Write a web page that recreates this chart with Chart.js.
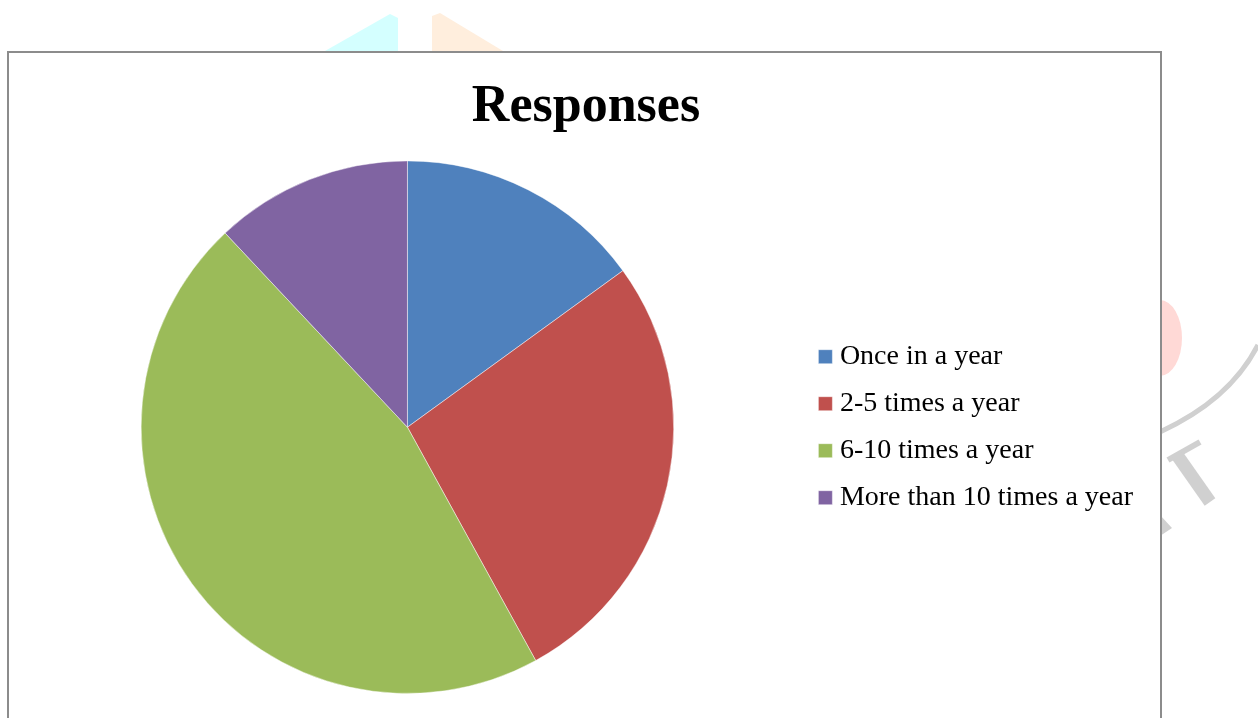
<!DOCTYPE html>
<html>
<head>
<meta charset="utf-8">
<script src="https://cdn.jsdelivr.net/npm/chart.js@4"></script>
<style>
  html, body { margin: 0; padding: 0; background: #fff; overflow: hidden; }
  body { width: 1258px; height: 718px; position: relative; }
  #bg { position: absolute; left: 0; top: 0; }
  #frame {
    position: absolute; left: 7px; top: 51px;
    width: 1151px; height: 680px;
    border: 2px solid #8c8c8c; background: #fff;
  }
</style>
</head>
<body>
<!-- faint watermark bits peeking out around the frame -->
<svg id="bg" width="1258" height="718">
  <polygon points="325,51 390,14 398,18 398,51" fill="#d4ffff"/>
  <polygon points="432,51 432,16 440,13 503,51" fill="#ffeedd"/>
  <path d="M1160,300 A22,38 0 0 1 1160,376 Z" fill="#ffd9d6"/>
  <path d="M1160,432 Q1230,400 1258,345" stroke="#d0d0d0" stroke-width="5" fill="none"/>
  <line x1="1168" y1="460" x2="1200" y2="442" stroke="#d0d0d0" stroke-width="6"/>
  <line x1="1177" y1="455" x2="1210" y2="502" stroke="#d0d0d0" stroke-width="13"/>
  <polygon points="1160,515 1172,528 1160,536" fill="#d0d0d0"/>
</svg>
<div id="frame"><canvas id="pieChart" width="1151" height="680"></canvas></div>
<script>
// Chart data
const categories = ['Once in a year', '2-5 times a year', '6-10 times a year', 'More than 10 times a year'];
const responses = [15, 27, 46, 12];
const sliceColors = ['#4f81bd', '#c0504d', '#9bbb59', '#8064a2'];

// nudge the title a little right, like the original sits
const titleNudge = {
  id: 'titleNudge',
  afterLayout(chart) {
    const t = chart.titleBlock;
    if (t) { t.left += 10; t.right += 10; }
  }
};

const ctx = document.getElementById('pieChart');
new Chart(ctx, {
  type: 'pie',
  data: {
    labels: categories,
    datasets: [{
      data: responses,
      backgroundColor: sliceColors,
      borderColor: 'rgba(255,255,255,0.45)',
      borderWidth: 1
    }]
  },
  options: {
    responsive: false,
    animation: false,
    layout: { padding: { left: 0, right: 17, top: 0, bottom: 39 } },
    plugins: {
      title: {
        display: true,
        text: 'Responses',
        color: '#000',
        font: { family: "'Liberation Serif', serif", size: 52, weight: 'bold', lineHeight: 1.2 },
        padding: { top: 23, bottom: 22 }
      },
      legend: {
        position: 'right',
        fullSize: false,
        labels: {
          color: '#000',
          font: { family: "'Liberation Serif', serif", size: 28 },
          usePointStyle: true,
          pointStyle: 'rect',
          boxWidth: 1,
          boxHeight: 14,
          padding: 19
        }
      },
      tooltip: { enabled: false }
    }
  },
  plugins: [titleNudge]
});
</script>
</body>
</html>
